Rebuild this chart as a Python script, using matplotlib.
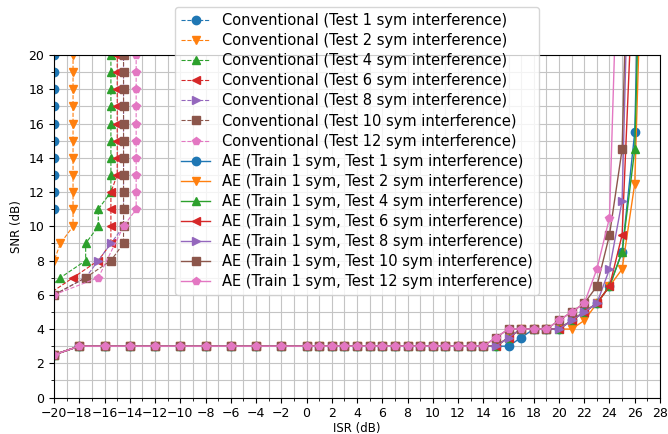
import numpy as np
from matplotlib import pyplot as plt
from matplotlib.ticker import MultipleLocator

# ISR sweep used for the autoencoder runs
isr_ae = [-20, -18, -16, -14, -12, -10, -8, -6, -4, -2,
          0, 1, 2, 3, 4, 5, 6, 7, 8, 9, 10, 11, 12, 13, 14,
          15, 16, 17, 18, 19, 20, 21, 22, 23, 24, 25, 26, 27]

# SNR needed by the AE (trained on 1 sym) for each test interference length
ae_flat = [2.5] + [3] * 24
ae_snr = {
    1:  ae_flat + [3, 3, 3.5, 4, 4, 4, 4.5, 5, 5.5, 6.5, 8.5, 15.5, 45],
    2:  ae_flat + [3, 3.5, 4, 4, 4, 4, 4, 4.5, 5.5, 6.5, 7.5, 12.5, 37],
    4:  ae_flat + [3, 3.5, 4, 4, 4, 4, 4.5, 5, 5.5, 6.5, 8.5, 14.5, 42],
    6:  ae_flat + [3, 3.5, 4, 4, 4, 4, 4.5, 5, 5.5, 6.5, 9.5, 27, 60],
    8:  ae_flat + [3, 3.5, 4, 4, 4, 4, 4.5, 5, 5.5, 7.5, 11.5, 40, 80],
    10: ae_flat + [3.5, 4, 4, 4, 4, 4.5, 5, 5.5, 6.5, 9.5, 14.5, 42, 90],
    12: ae_flat + [3.5, 4, 4, 4, 4, 4.5, 5, 5.5, 7.5, 10.5, 35, 70, 100],
}

# Conventional receiver: ISR tolerated at each SNR
conv_snr = {
    1:  [10, 11, 12, 13, 14, 15, 16, 17, 18, 19, 20],
    2:  [6, 7, 8, 9, 10, 11, 12, 13, 14, 15, 16, 17, 18, 19, 20],
    4:  [6, 7, 8, 9, 10, 11, 12, 13, 14, 15, 16, 17, 18, 19, 20],
    6:  [6, 7, 8, 9, 10, 11, 12, 13, 14, 15, 16, 17, 18, 19, 20],
    8:  [6, 7, 8, 9, 10, 11, 12, 13, 14, 15, 16, 17, 18, 19, 20],
    10: [6, 7, 8, 9, 10, 11, 12, 13, 14, 15, 16, 17, 18, 19, 20],
    12: [6, 7, 10, 11, 12, 13, 14, 15, 16, 17, 18, 19, 20],
}
conv_isr = {
    1:  [-21] + [-20] * 10,
    2:  [-21.5, -21, -20, -19.5] + [-18.5] * 11,
    4:  [-21, -19.5, -17.5, -17.5, -16.5, -16.5] + [-15.5] * 9,
    6:  [-20.5, -18.5, -16.5, -15.5, -15.5, -15.5, -15.5] + [-15] * 8,
    8:  [-20, -17.5, -16.5, -15.5] + [-14.5] * 11,
    10: [-20, -17.5, -15.5] + [-14.5] * 12,
    12: [-20, -16.5, -14.5] + [-13.5] * 10,
}

lengths = [1, 2, 4, 6, 8, 10, 12]
markers = ['o', 'v', '^', '<', '>', 's', 'p']
colors = ['C0', 'C1', 'C2', 'C3', 'C4', 'C5', 'C6']

fig, ax = plt.subplots(figsize=(6.68, 4.34), dpi=100)
fig.subplots_adjust(left=0.081, right=0.988, bottom=0.084, top=0.873)

for n, m, c in zip(lengths, markers, colors):
    ax.plot(conv_isr[n], conv_snr[n], linestyle='--', marker=m, color=c,
            linewidth=0.8, markersize=6,
            label=f'Conventional (Test {n} sym interference)')

for n, m, c in zip(lengths, markers, colors):
    ax.plot(isr_ae, ae_snr[n], linestyle='-', marker=m, color=c,
            linewidth=1, markersize=6,
            label=f'AE (Train 1 sym, Test {n} sym interference)')

ax.set_xlim(-20, 28)
ax.set_ylim(0, 20)
ax.xaxis.set_major_locator(MultipleLocator(2))
ax.xaxis.set_minor_locator(MultipleLocator(1))
ax.yaxis.set_major_locator(MultipleLocator(2))
ax.yaxis.set_minor_locator(MultipleLocator(1))
ax.tick_params(labelsize=9)
ax.grid(True, which='both', color='#c4c4c4', linewidth=0.8)

ax.set_xlabel('ISR (dB)', fontsize=8.5, labelpad=1)
ax.set_ylabel('SNR (dB)', fontsize=8.5)

ax.legend(loc='upper center', bbox_to_anchor=(0.5, 1.14), fontsize=10.5,
          labelspacing=0.35, borderaxespad=0)

plt.savefig('out.png', dpi=100)
